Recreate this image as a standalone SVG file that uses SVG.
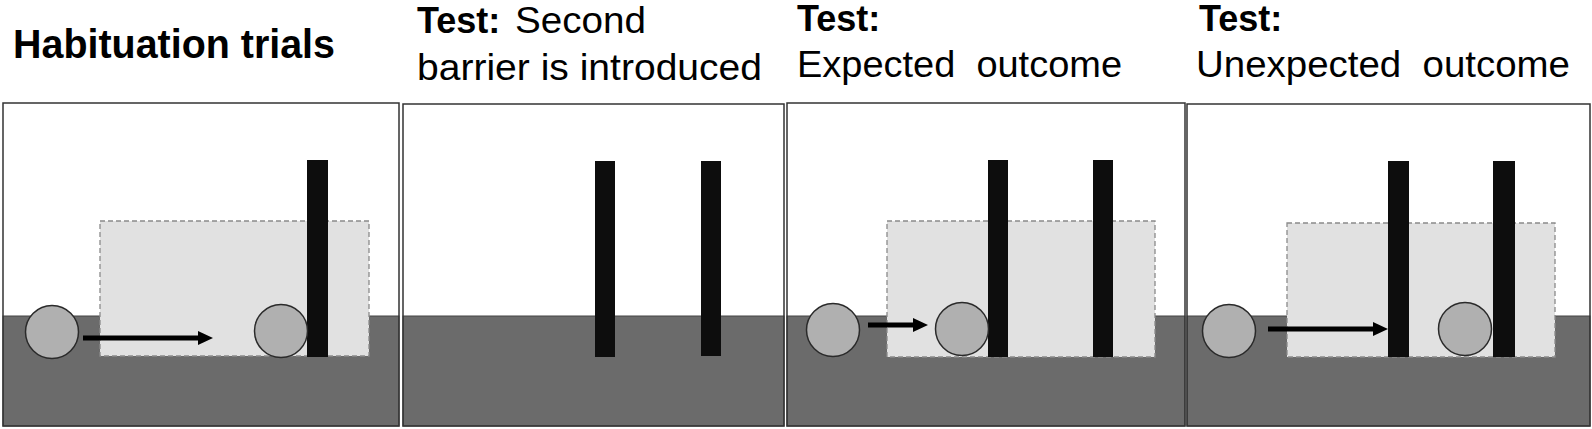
<svg xmlns="http://www.w3.org/2000/svg" width="1592" height="429" viewBox="0 0 1592 429">
  <style>
    .frame { fill: none; stroke: #333333; stroke-width: 1.5; }
    .ground { fill: #6b6b6b; stroke: #444444; stroke-width: 1; }
    .zone { fill: #e1e1e1; stroke: #8a8a8a; stroke-width: 1.3; stroke-dasharray: 5 3; }
    .bar { fill: #0d0d0d; }
    .ball { fill: #b0b0b0; stroke: #2a2a2a; stroke-width: 1.5; }
    .shaft { stroke: #000000; stroke-width: 5; fill: none; }
    .head { fill: #000000; }
    .bold { font-family: "Liberation Sans", Arial, sans-serif; font-weight: bold; font-size: 36px; fill: #000; }
    .reg { font-family: "Liberation Sans", Arial, sans-serif; font-size: 37px; fill: #000; }
  </style>
  <rect width="1592" height="429" fill="#ffffff"/>

  <g id="panel1">
    <text class="bold" x="13" y="58" style="font-size:40px" textLength="322" lengthAdjust="spacingAndGlyphs">Habituation trials</text>
    <rect class="ground" x="3" y="316" width="396" height="110"/>
    <rect class="zone" x="100" y="221" width="269" height="135"/>
    <rect class="bar" x="307" y="160" width="21" height="197"/>
    <circle class="ball" cx="52" cy="332" r="26.5"/>
    <circle class="ball" cx="281" cy="331" r="26.5"/>
    <rect class="frame" x="3" y="103" width="396" height="323"/>
  </g>

  <g id="panel2">
    <text class="bold" x="417" y="33">Test:</text>
    <text class="reg" x="515" y="33" textLength="131" lengthAdjust="spacingAndGlyphs">Second</text>
    <text class="reg" x="417" y="80" textLength="345" lengthAdjust="spacingAndGlyphs">barrier is introduced</text>
    <rect class="ground" x="403" y="316" width="381" height="110"/>
    <rect class="bar" x="595" y="161" width="20" height="196"/>
    <rect class="bar" x="701" y="161" width="20" height="195"/>
    <rect class="frame" x="403" y="104" width="381" height="322"/>
  </g>

  <g id="panel3">
    <text class="bold" x="797" y="31">Test:</text>
    <text class="reg" x="797" y="77" xml:space="preserve" textLength="325" lengthAdjust="spacingAndGlyphs">Expected  outcome</text>
    <rect class="ground" x="787" y="316" width="398" height="110"/>
    <rect class="zone" x="887" y="221" width="268" height="136"/>
    <rect class="bar" x="988" y="160" width="20" height="197"/>
    <rect class="bar" x="1093" y="160" width="20" height="197"/>
    <circle class="ball" cx="833" cy="330" r="26.5"/>
    <circle class="ball" cx="962" cy="329" r="26.5"/>
    <rect class="frame" x="787" y="103" width="398" height="323"/>
  </g>

  <g id="panel4">
    <text class="bold" x="1199" y="31">Test:</text>
    <text class="reg" x="1196" y="77" xml:space="preserve" textLength="374" lengthAdjust="spacingAndGlyphs">Unexpected  outcome</text>
    <rect class="ground" x="1187" y="316" width="403" height="110"/>
    <rect class="zone" x="1287" y="223" width="268" height="134"/>
    <rect class="bar" x="1388" y="161" width="21" height="196"/>
    <rect class="bar" x="1493" y="161" width="22" height="196"/>
    <circle class="ball" cx="1229" cy="331" r="26.5"/>
    <circle class="ball" cx="1465" cy="329" r="26.5"/>
    <rect class="frame" x="1187" y="104" width="403" height="322"/>
  </g>

  <g id="connectors">
    <line class="shaft" x1="83" y1="338" x2="200" y2="338"/>
    <polygon class="head" points="198,331 213,338 198,345"/>
    <line class="shaft" x1="868" y1="325" x2="915" y2="325"/>
    <polygon class="head" points="913,318 928,325 913,332"/>
    <line class="shaft" x1="1268" y1="329" x2="1375" y2="329"/>
    <polygon class="head" points="1373,322 1388,329 1373,336"/>
  </g>
</svg>
